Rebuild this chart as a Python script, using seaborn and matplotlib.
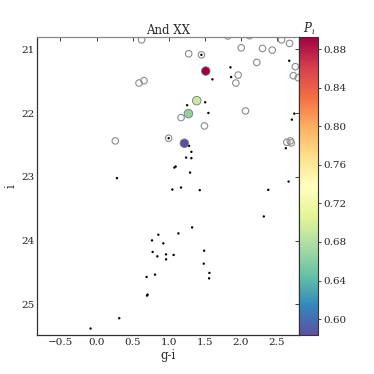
import numpy as np
import pandas as pd
import matplotlib
matplotlib.use("Agg")
import matplotlib.pyplot as plt
import seaborn as sns
from matplotlib.colors import Normalize
from matplotlib.colorbar import ColorbarBase

# ---- data ----
# open grey circles (background sample)
open_gi = [0.625, 1.278, 1.454, 1.819, 2.121, 2.006, 2.301, 2.436, 2.565, 2.676,
           2.222, 1.964, 1.931, 2.756, 2.728, 2.797, 0.589, 0.658, 2.065, 1.172,
           1.496, 0.260, 1.000, 2.639, 2.686, 2.700]
open_i = [20.85, 21.069, 21.085, 20.79, 20.785, 20.975, 20.985, 21.011, 20.85, 20.906,
          21.204, 21.403, 21.528, 21.272, 21.413, 21.445, 21.528, 21.491, 21.966, 22.071,
          22.201, 22.436, 22.394, 22.457, 22.436, 22.468]

# small black dots
dot_gi = [2.672, 1.857, 1.866, 1.607, 1.506, 1.256, 1.551, 2.742, 2.708, 1.454,
          1.000, 1.283, 1.315, 1.242, 1.315, 2.625, 1.097, 1.079, 1.297, 0.283,
          2.663, 1.051, 1.172, 1.431, 2.381, 2.319, 1.325, 1.135, 0.857, 0.769,
          0.926, 1.492, 0.778, 0.964, 1.069, 0.843, 0.964, 1.486, 1.565, 1.561,
          0.811, 0.694, 0.708, 0.700, 0.315, -0.083]
dot_i = [21.178, 21.282, 21.434, 21.47, 21.83, 21.877, 21.998, 22.008, 22.102, 21.085,
         22.394, 22.514, 22.608, 22.698, 22.707, 22.551, 22.839, 22.854, 22.933, 23.02,
         23.074, 23.199, 23.168, 23.209, 23.204, 23.622, 23.794, 23.888, 23.908, 23.998,
         24.044, 24.159, 24.179, 24.217, 24.226, 24.248, 24.295, 24.363, 24.508, 24.593,
         24.535, 24.571, 24.848, 24.864, 25.219, 25.381]

# member candidates coloured by probability
mem_gi = [1.514, 1.389, 1.274, 1.218]
mem_i = [21.34, 21.805, 22.008, 22.473]
mem_p = [0.893, 0.692, 0.664, 0.583]

cbar_ticks = [0.60, 0.64, 0.68, 0.72, 0.76, 0.80, 0.84, 0.88]

df_open = pd.DataFrame({"gi": open_gi, "i": open_i})
df_dot = pd.DataFrame({"gi": dot_gi, "i": dot_i})
df_mem = pd.DataFrame({"gi": mem_gi, "i": mem_i, "p": mem_p})

sns.set_style("white")
plt.rcParams['font.family'] = ['DejaVu Serif']
plt.rcParams['mathtext.fontset'] = 'dejavuserif'

fig = plt.figure(figsize=(3.74, 3.74), dpi=100)
ax = fig.add_axes([0.100, 0.103, 0.700, 0.799])
cax = fig.add_axes([0.800, 0.103, 0.051, 0.799])

cmap = plt.get_cmap("Spectral_r")
vmin, vmax = min(mem_p), max(mem_p)
norm = Normalize(vmin=vmin, vmax=vmax)

sns.scatterplot(data=df_open, x="gi", y="i", ax=ax, s=22, facecolor="none",
                edgecolor="#8c8c8c", linewidth=0.8, legend=False, zorder=2)
sns.scatterplot(data=df_dot, x="gi", y="i", ax=ax, s=3, color="black",
                edgecolor="none", linewidth=0, legend=False, zorder=3)
sns.scatterplot(data=df_mem, x="gi", y="i", hue="p", palette=cmap, hue_norm=norm,
                ax=ax, s=38, edgecolor="#7a7a7a", linewidth=0.6, legend=False, zorder=4)

ax.set_xlim(-0.82, 2.81)
ax.set_ylim(25.49, 20.80)
ax.set_xticks([-0.5, 0.0, 0.5, 1.0, 1.5, 2.0, 2.5])
ax.set_yticks([21, 22, 23, 24, 25])
ax.set_xticklabels(["\u22120.5", "0.0", "0.5", "1.0", "1.5", "2.0", "2.5"])
ax.tick_params(direction="in", length=3, width=0.6, top=True, right=True,
               labelsize=7.5, pad=2, colors="#222222", labelcolor="#222222")
for sp in ax.spines.values():
    sp.set_color("#333333")
    sp.set_linewidth(0.9)
ax.spines["top"].set_color("#888888")
ax.set_xlabel("g-i", fontsize=8.5, labelpad=1)
ax.set_ylabel("i", fontsize=8.5, labelpad=3)
ax.set_title("And XX", fontsize=8.5, pad=2)

cb = ColorbarBase(cax, cmap=cmap, norm=norm, orientation="vertical")
cb.set_ticks(cbar_ticks)
cb.set_ticklabels([f"{t:.2f}" for t in cbar_ticks])
cb.outline.set_linewidth(0.8)
cb.outline.set_edgecolor("#333333")
cax.tick_params(direction="out", length=2, width=0.6, labelsize=7.5, pad=2)
cax.set_title("$P_i$", fontsize=8.5, pad=1)

fig.savefig("out.png", dpi=100)
